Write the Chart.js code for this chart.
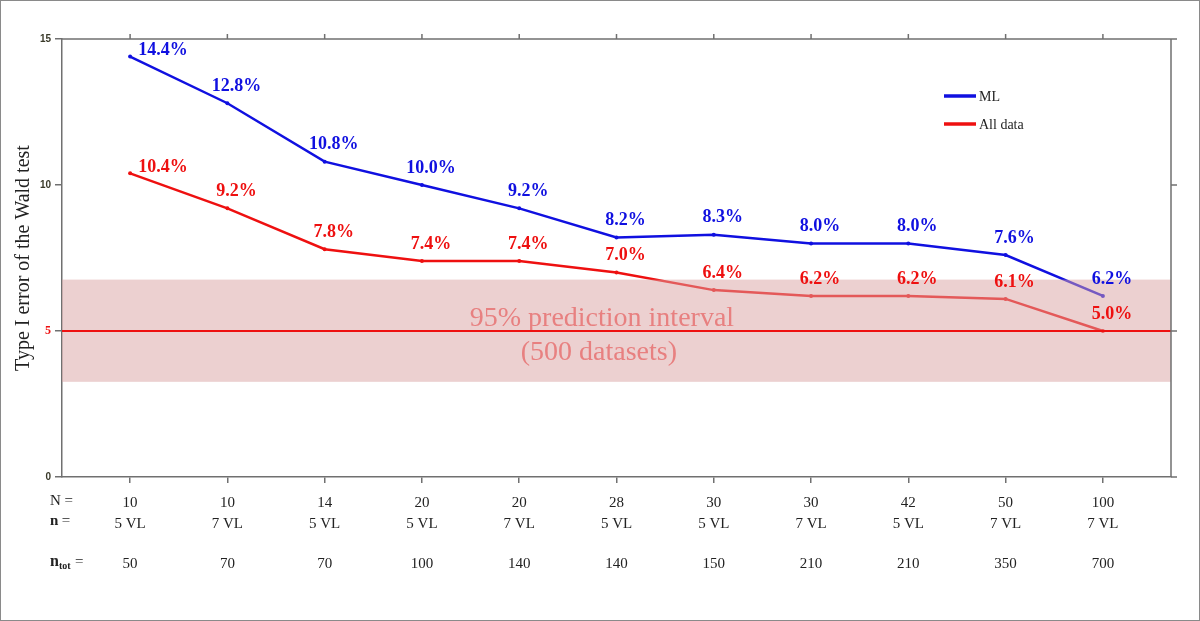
<!DOCTYPE html>
<html><head><meta charset="utf-8">
<script src="https://cdn.jsdelivr.net/npm/chart.js@4/dist/chart.umd.min.js"></script>
<style>html,body{margin:0;padding:0;background:#fff;}canvas{display:block;}
#frame{position:absolute;left:0;top:0;width:1198px;height:619px;border:1px solid #8a8a8a;pointer-events:none;}</style>
</head><body>
<canvas id="c" width="1200" height="621"></canvas>
<div id="frame"></div>
<script>
const nLabels = ["10","10","14","20","20","28","30","30","42","50","100"];
const nvlLabels = ["5 VL","7 VL","5 VL","5 VL","7 VL","5 VL","5 VL","7 VL","5 VL","7 VL","7 VL"];
const ntotLabels = ["50","70","70","100","140","140","150","210","210","350","700"];
const mlValues = [14.4,12.8,10.8,10.0,9.2,8.2,8.3,8.0,8.0,7.6,6.2];
const allValues = [10.4,9.2,7.8,7.4,7.4,7.0,6.4,6.2,6.2,6.1,5.0];
const yTicks = [0,5,10,15];
const bandRange = [3.26, 6.76];
const nominalLevel = 5;
const seriesNames = ["ML","All data"];
const bandText = ["95% prediction interval","(500 datasets)"];

const BLUE = '#1010e0', RED = '#ee1010', AXIS = '#707070';
const SERIF = '"Liberation Serif", "Times New Roman", serif';

const overlay = {
  id: 'overlay',
  afterDatasetsDraw(chart) {
    const {ctx, chartArea: a, scales: {x, y}} = chart;
    ctx.save();
    // band
    const yt = y.getPixelForValue(bandRange[1]), yb = y.getPixelForValue(bandRange[0]);
    ctx.fillStyle = 'rgba(217,161,161,0.5)';
    ctx.fillRect(a.left, yt, a.right - a.left, yb - yt);
    // band text
    ctx.fillStyle = 'rgb(232,128,128)';
    ctx.font = '28px ' + SERIF;
    ctx.textAlign = 'center'; ctx.textBaseline = 'middle';
    const cx = x.getPixelForValue(4.85);
    ctx.fillText(bandText[0], cx, 319);
    ctx.fillText(bandText[1], cx - 3, 353);
    // nominal line
    const y5 = y.getPixelForValue(nominalLevel);
    ctx.strokeStyle = RED; ctx.lineWidth = 1.8;
    ctx.beginPath(); ctx.moveTo(a.left, y5); ctx.lineTo(a.right, y5); ctx.stroke();
    // top & right frame
    ctx.strokeStyle = AXIS; ctx.lineWidth = 1.5;
    ctx.beginPath();
    ctx.moveTo(a.left, a.top); ctx.lineTo(a.right + 6, a.top);
    ctx.moveTo(a.right, a.top); ctx.lineTo(a.right, a.bottom);
    ctx.moveTo(a.right, a.bottom); ctx.lineTo(a.right + 6, a.bottom);
    for (let i = 0; i < nLabels.length; i++) {
      const px = x.getPixelForValue(i);
      ctx.moveTo(px, a.top); ctx.lineTo(px, a.top - 5);
    }
    yTicks.forEach(v => { const py = y.getPixelForValue(v); ctx.moveTo(a.right, py); ctx.lineTo(a.right + 6, py); });
    ctx.stroke();
    // data labels
    ctx.font = 'bold 18px ' + SERIF;
    ctx.textAlign = 'center'; ctx.textBaseline = 'middle';
    [[mlValues, BLUE], [allValues, RED]].forEach(([vals, col]) => {
      ctx.fillStyle = col;
      vals.forEach((v, i) => {
        const px = x.getPixelForValue(i), py = y.getPixelForValue(v);
        const dx = i === 0 ? 33 : 9, dy = i === 0 ? -6 : -17;
        ctx.fillText(v.toFixed(1) + '%', px + dx, py + dy);
      });
    });
    // legend
    ctx.lineWidth = 3.5; ctx.lineCap = 'butt';
    ctx.font = '14px ' + SERIF; ctx.textAlign = 'left'; ctx.fillStyle = '#222';
    [[BLUE, 96], [RED, 124]].forEach(([col, ly], k) => {
      ctx.strokeStyle = col;
      ctx.beginPath(); ctx.moveTo(944, ly); ctx.lineTo(976, ly); ctx.stroke();
      ctx.fillStyle = '#222';
      ctx.fillText(seriesNames[k], 979, ly + 1);
    });
    // y title
    ctx.save();
    ctx.translate(24, (a.top + a.bottom) / 2);
    ctx.rotate(-Math.PI / 2);
    ctx.font = '20px ' + SERIF; ctx.textAlign = 'center'; ctx.fillStyle = '#222';
    ctx.fillText('Type I error of the Wald test', 0, 0);
    ctx.restore();
    // row labels
    ctx.fillStyle = '#222'; ctx.textAlign = 'left'; ctx.textBaseline = 'middle';
    ctx.font = '15px ' + SERIF;
    ctx.fillText('N =', 50, 501);
    ctx.font = 'bold 15px ' + SERIF;
    ctx.fillText('n', 50, 521);
    ctx.font = '15px ' + SERIF;
    ctx.fillText(' =', 58, 521);
    ctx.font = 'bold 16px ' + SERIF;
    ctx.fillText('n', 50, 562);
    ctx.font = 'bold 10px ' + SERIF;
    ctx.fillText('tot', 59, 566);
    ctx.font = '15px ' + SERIF;
    ctx.fillText('=', 75, 562);
    ctx.restore();
  }
};

const mk = vals => vals.map((v, i) => ({x: i, y: v}));

new Chart(document.getElementById('c'), {
  type: 'line',
  data: {
    datasets: [
      {label: seriesNames[0], data: mk(mlValues), borderColor: BLUE, backgroundColor: BLUE, borderWidth: 2.5, pointRadius: 2, pointBorderWidth: 0, tension: 0},
      {label: seriesNames[1], data: mk(allValues), borderColor: RED, backgroundColor: RED, borderWidth: 2.5, pointRadius: 2, pointBorderWidth: 0, tension: 0}
    ]
  },
  options: {
    responsive: false, animation: false, devicePixelRatio: 1,
    layout: {padding: {left: 0, top: 39, right: 29, bottom: 0}},
    plugins: {legend: {display: false}, tooltip: {enabled: false}},
    scales: {
      x: {
        type: 'linear', min: -0.7, max: 10.7,
        afterFit: s => { s.height = 144; },
        afterBuildTicks: s => { s.ticks = nLabels.map((_, i) => ({value: i})); },
        grid: {drawOnChartArea: false, tickLength: 6, color: AXIS, lineWidth: 1.5},
        border: {color: AXIS, width: 1.5},
        ticks: {
          autoSkip: false, maxRotation: 0, padding: 10,
          color: '#222', font: {family: SERIF, size: 15, lineHeight: 1.36},
          callback: (v) => [nLabels[v], nvlLabels[v], '', ntotLabels[v]]
        }
      },
      y: {
        min: 0, max: 15,
        afterFit: s => { s.width = 62; },
        afterBuildTicks: s => { s.ticks = yTicks.map(v => ({value: v})); },
        grid: {drawOnChartArea: false, tickLength: 7, color: AXIS, lineWidth: 1.5},
        border: {color: AXIS, width: 1.5},
        ticks: {
          padding: 4,
          color: c => c.tick && c.tick.value === 5 ? RED : '#3a3a2a',
          font: c => c.tick && c.tick.value === 5 ? {family: SERIF, size: 12, weight: 'bold'} : {family: 'Arial, "Liberation Sans", sans-serif', size: 10, weight: 'bold'}
        }
      }
    }
  },
  plugins: [overlay]
});
</script>
</body></html>
